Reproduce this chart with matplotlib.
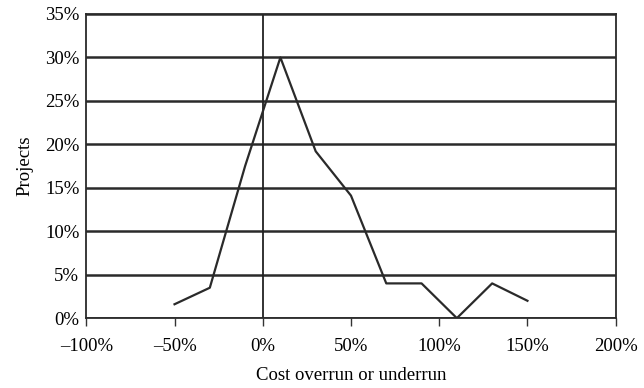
"""Distribution of project cost overrun / underrun."""

import matplotlib
matplotlib.use("Agg")
import matplotlib.pyplot as plt
from matplotlib.ticker import FuncFormatter

# ---------------------------------------------------------------------------
# Data
# ---------------------------------------------------------------------------

overrun_pct = [-50, -30, -10, 10, 30, 50, 70, 90, 110, 130, 150]
projects_pct = [1.6, 3.5, 17.5, 30.0, 19.2, 14.1, 4.0, 4.0, 0.0, 4.0, 2.0]

x_ticks = [-100, -50, 0, 50, 100, 150, 200]
y_ticks = [0, 5, 10, 15, 20, 25, 30, 35]

# ---------------------------------------------------------------------------
# Plot
# ---------------------------------------------------------------------------

plt.rcParams["font.family"] = ["Liberation Serif", "DejaVu Serif"]

fig = plt.figure(figsize=(6.44, 3.88), dpi=100)
ax = fig.add_axes([0.134, 0.180, 0.822, 0.784])

for y in y_ticks:
    ax.axhline(y, color="#2a2a2a", linewidth=1.8, zorder=1)
ax.axvline(0, color="#222222", linewidth=1.3, zorder=1)

ax.plot(overrun_pct, projects_pct, color="#2a2a2a", linewidth=1.6, zorder=3)

ax.set_xlim(-100, 200)
ax.set_ylim(0, 35)
ax.set_xticks(x_ticks)
ax.set_yticks(y_ticks)

pct = FuncFormatter(lambda v, _: f"{int(v)}%".replace("-", "\u2013"))
ax.xaxis.set_major_formatter(pct)
ax.yaxis.set_major_formatter(pct)

ax.tick_params(axis="x", direction="out", length=6, width=1, color="#333333",
               labelsize=13.5, pad=8)
ax.tick_params(axis="y", length=0, labelsize=13.5, pad=5)

for side in ["top", "right", "left", "bottom"]:
    ax.spines[side].set_color("#2a2a2a")
    ax.spines[side].set_linewidth(1.3)

ax.set_xlabel("Cost overrun or underrun", fontsize=13.5, labelpad=9)
ax.set_ylabel("Projects", fontsize=13.5, labelpad=8)

fig.savefig("out.png", dpi=100)
plt.close(fig)
